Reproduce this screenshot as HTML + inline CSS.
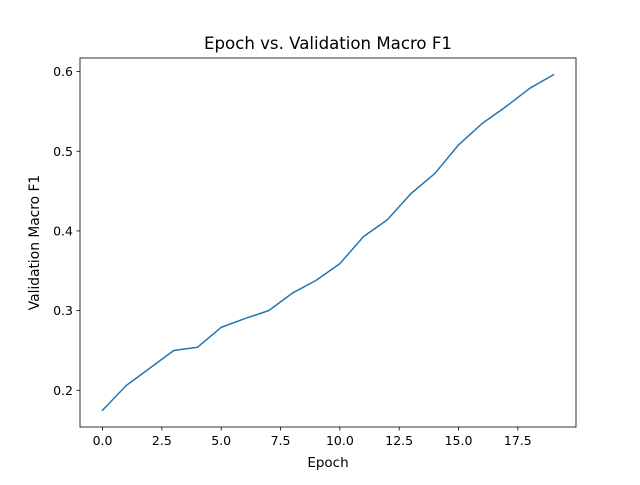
<!DOCTYPE html>
<html><head><meta charset="utf-8"><style>
body{margin:0;background:#fff;}
svg text{font-family:"DejaVu Sans","Liberation Sans",sans-serif;fill:#000;}
</style></head><body>
<svg id="chart" width="640" height="480" xmlns="http://www.w3.org/2000/svg">
<rect width="640" height="480" fill="#fff"/>
<text x="328" y="49" font-size="16.6" text-anchor="middle">Epoch vs. Validation Macro F1</text>
<g id="plot"></g>
<text x="328" y="467" font-size="13.5" text-anchor="middle">Epoch</text>
<text x="0" y="0" font-size="13.8" text-anchor="middle" transform="translate(39,242.5) rotate(-90)">Validation Macro F1</text>
</svg>
<script>
const epochs=[0,1,2,3,4,5,6,7,8,9,10,11,12,13,14,15,16,17,18,19];
const f1=[0.175,0.206,0.228,0.250,0.254,0.279,0.290,0.300,0.322,0.338,0.359,0.393,0.414,0.447,0.472,0.508,0.535,0.556,0.579,0.596];
const xTicks=[0,2.5,5,7.5,10,12.5,15,17.5];
const xTickLabels=["0.0","2.5","5.0","7.5","10.0","12.5","15.0","17.5"];
const yTicks=[0.2,0.3,0.4,0.5,0.6];
const yTickLabels=["0.2","0.3","0.4","0.5","0.6"];

const L=80,R=576,T=58,B=427;
const xmin=Math.min(...epochs),xmax=Math.max(...epochs);
const ymin0=Math.min(...f1),ymax0=Math.max(...f1);
const xpad=(xmax-xmin)*0.05,ypad=(ymax0-ymin0)*0.05;
const x0=xmin-xpad,x1=xmax+xpad,y0=ymin0-ypad,y1=ymax0+ypad;
const sx=v=>L+(v-x0)/(x1-x0)*(R-L);
const sy=v=>B-(v-y0)/(y1-y0)*(B-T);
const NS="http://www.w3.org/2000/svg";
const g=document.getElementById('plot');
function mk(t,a){const e=document.createElementNS(NS,t);for(const k in a)e.setAttribute(k,a[k]);g.appendChild(e);return e;}

const frame=mk('rect',{x:L,y:T,width:R-L,height:B-T,fill:'none',stroke:'#000','stroke-width':0.8});



xTicks.forEach((v,i)=>{
  const x=sx(v);
  const tk=mk('line',{x1:x,x2:x,y1:B,y2:B+3.5,stroke:'#000','stroke-width':0.8});
  
  
  const t=mk('text',{x:x,y:B+18,'font-size':12.5,'text-anchor':'middle'});
  t.textContent=xTickLabels[i];
  
  
});
yTicks.forEach((v,i)=>{
  const y=sy(v);
  const tk=mk('line',{x1:L-3.5,x2:L,y1:y,y2:y,stroke:'#000','stroke-width':0.8});
  
  
  const t=mk('text',{x:L-7,y:y+4.5,'font-size':12.5,'text-anchor':'end'});
  t.textContent=yTickLabels[i];
  
  
});
const pts=epochs.map((e,i)=>sx(e)+','+sy(f1[i])).join(' ');
const line=mk('polyline',{points:pts,fill:'none',stroke:'#1f77b4','stroke-width':1.5,'stroke-linejoin':'round','stroke-linecap':'square'});


</script>
</body></html>
